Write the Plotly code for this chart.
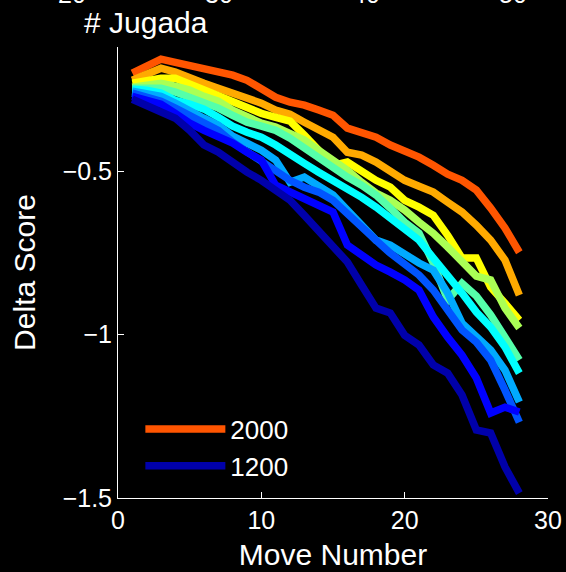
import plotly.graph_objects as go

moves = list(range(1, 29))

ratings = [2000, 1900, 1800, 1700, 1600, 1500, 1400, 1300, 1250, 1200]
colors = ["#ff5500", "#ffaa00", "#ffff00", "#aaff55", "#55ffaa",
          "#00ffff", "#00aaff", "#0055ff", "#0000ff", "#0000aa"]
show_in_legend = [True, False, False, False, False, False, False, False, False, True]
legend_names = ["2000", "", "", "", "", "", "", "", "", "1200"]

delta_2000 = [-0.200, -0.179, -0.157, -0.167, -0.176, -0.185, -0.197, -0.206, -0.222, -0.246,
              -0.274, -0.289, -0.298, -0.313, -0.329, -0.368, -0.384, -0.396, -0.420, -0.436,
              -0.457, -0.482, -0.509, -0.528, -0.558, -0.613, -0.674, -0.748]
delta_1900 = [-0.222, -0.203, -0.185, -0.197, -0.216, -0.231, -0.246, -0.261, -0.277, -0.292,
              -0.313, -0.326, -0.350, -0.375, -0.396, -0.442, -0.451, -0.472, -0.503, -0.528,
              -0.546, -0.564, -0.595, -0.625, -0.665, -0.711, -0.772, -0.879]
delta_1800 = [-0.231, -0.222, -0.216, -0.216, -0.234, -0.252, -0.268, -0.283, -0.304, -0.323,
              -0.335, -0.347, -0.390, -0.436, -0.482, -0.472, -0.503, -0.528, -0.549, -0.589,
              -0.610, -0.635, -0.696, -0.766, -0.766, -0.855, -0.904, -0.956]
delta_1700 = [-0.243, -0.237, -0.231, -0.240, -0.252, -0.271, -0.286, -0.313, -0.335, -0.353,
              -0.365, -0.384, -0.405, -0.436, -0.466, -0.497, -0.534, -0.567, -0.589, -0.619,
              -0.656, -0.690, -0.732, -0.778, -0.821, -0.833, -0.919, -0.980]
delta_1600 = [-0.246, -0.246, -0.246, -0.258, -0.274, -0.292, -0.307, -0.329, -0.350, -0.362,
              -0.375, -0.399, -0.430, -0.460, -0.491, -0.518, -0.543, -0.573, -0.613, -0.656,
              -0.690, -0.781, -0.894, -0.843, -0.882, -0.940, -1.008, -1.078]
delta_1500 = [-0.249, -0.252, -0.261, -0.283, -0.295, -0.310, -0.335, -0.362, -0.381, -0.396,
              -0.420, -0.445, -0.476, -0.503, -0.528, -0.552, -0.580, -0.610, -0.644, -0.671,
              -0.711, -0.766, -0.818, -0.873, -0.931, -0.977, -1.038, -1.118]
delta_1400 = [-0.255, -0.261, -0.271, -0.292, -0.317, -0.338, -0.359, -0.393, -0.414, -0.436,
              -0.466, -0.534, -0.518, -0.543, -0.573, -0.619, -0.665, -0.711, -0.726, -0.757,
              -0.781, -0.803, -0.873, -0.965, -1.008, -1.047, -1.109, -1.206]
delta_1300 = [-0.261, -0.274, -0.286, -0.307, -0.329, -0.350, -0.375, -0.411, -0.442, -0.466,
              -0.497, -0.528, -0.549, -0.564, -0.589, -0.628, -0.665, -0.711, -0.751, -0.787,
              -0.818, -0.864, -0.925, -0.986, -1.023, -1.078, -1.170, -1.268]
delta_1250 = [-0.271, -0.283, -0.295, -0.323, -0.353, -0.375, -0.396, -0.414, -0.442, -0.466,
              -0.543, -0.564, -0.580, -0.604, -0.625, -0.726, -0.757, -0.787, -0.809, -0.833,
              -0.864, -0.946, -1.008, -1.063, -1.133, -1.240, -1.222, -1.237]
delta_1200 = [-0.280, -0.301, -0.320, -0.338, -0.375, -0.420, -0.442, -0.476, -0.503, -0.528,
              -0.558, -0.589, -0.635, -0.680, -0.726, -0.778, -0.849, -0.919, -0.934, -1.002,
              -1.032, -1.093, -1.118, -1.185, -1.292, -1.301, -1.405, -1.485]

series = [delta_2000, delta_1900, delta_1800, delta_1700, delta_1600,
          delta_1500, delta_1400, delta_1300, delta_1250, delta_1200]

x_ticks = [0, 10, 20, 30]
y_ticks = [-1.5, -1, -0.5]
top_tick_labels = ["20", "30", "40", "50"]
# horizontal centre of each label of the upper (cropped) axis, as paper fraction
top_tick_x = [(72 - 118) / 430, (219 - 118) / 430, (366 - 118) / 430, (513 - 118) / 430]

FONT = "Liberation Sans, Arial, Helvetica, sans-serif"

fig = go.Figure()
for vals, col, name, show in zip(series, colors, legend_names, show_in_legend):
    fig.add_trace(go.Scatter(
        x=moves, y=vals, mode="lines", name=name, showlegend=show,
        line=dict(color=col, width=7.5), hoverinfo="skip"))

annotations = []
for lab, px in zip(top_tick_labels, top_tick_x):
    annotations.append(dict(
        text=lab, xref="paper", yref="paper",
        x=px, y=1 + (47 + 6) / 451,
        showarrow=False, xanchor="center", yanchor="middle",
        font=dict(size=25, color="white", family=FONT)))
annotations.append(dict(
    text="# Jugada", xref="paper", yref="paper",
    x=(146 - 118) / 430, y=1 + (47 - 23) / 451,
    showarrow=False, xanchor="center", yanchor="middle",
    font=dict(size=30, color="white", family=FONT)))

fig.update_layout(
    width=566, height=572,
    paper_bgcolor="black", plot_bgcolor="black",
    margin=dict(l=118, r=18, t=47, b=74),
    font=dict(family=FONT, color="white", size=25),
    showlegend=True,
    legend=dict(x=0.052, y=0.205, xanchor="left", yanchor="top",
                bgcolor="rgba(0,0,0,0)", borderwidth=0,
                font=dict(size=26, color="white", family=FONT),
                itemwidth=80, tracegroupgap=0),
    annotations=annotations,
    xaxis=dict(range=[0, 30], tickvals=x_ticks, ticks="inside", ticklen=6,
               tickcolor="white", showline=True, linecolor="white", linewidth=1,
               showgrid=False, zeroline=False, mirror=False, automargin=False,
               tickfont=dict(size=25, color="white"), ticklabelstandoff=0,
               title=dict(text="Move Number", font=dict(size=30, color="white"), standoff=10)),
    yaxis=dict(range=[-1.5, -0.12], tickvals=y_ticks, ticks="inside", ticklen=6,
               tickcolor="white", showline=True, linecolor="white", linewidth=1,
               showgrid=False, zeroline=False, mirror=False, automargin=False,
               tickfont=dict(size=25, color="white"),
               title=dict(text="Delta Score", font=dict(size=30, color="white"), standoff=18)),
)

fig.write_html(
    "out.html",
    config={"displayModeBar": False},
    post_script="document.body.style.margin='0';document.body.style.overflow='hidden';"
                "document.body.style.background='black';")
